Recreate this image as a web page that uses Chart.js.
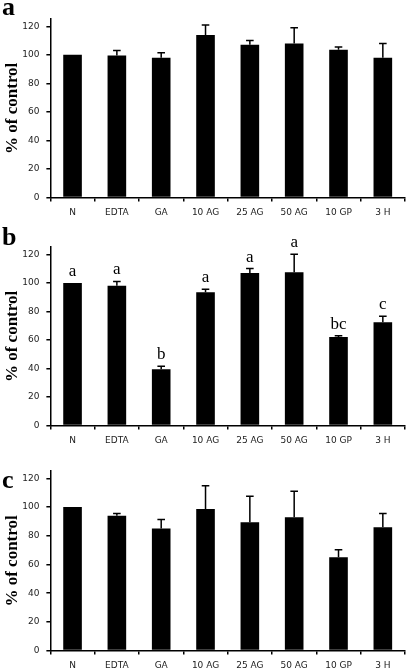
<!DOCTYPE html>
<html><head><meta charset="utf-8">
<script src="https://cdn.jsdelivr.net/npm/chart.js@4/dist/chart.umd.min.js"></script>
<style>
html,body{margin:0;padding:0;background:#fff;overflow:hidden}
#wrap{position:relative;width:406px;height:669px;overflow:hidden;background:#fff}
canvas{position:absolute;left:0}
</style></head>
<body><div id="wrap">
<canvas id="ca" width="406" height="235" style="top:0px"></canvas>
<canvas id="cb" width="406" height="235" style="top:225px"></canvas>
<canvas id="cc" width="406" height="235" style="top:450px"></canvas>
</div>
<script>
const categories = ['N', 'EDTA', 'GA', '10 AG', '25 AG', '50 AG', '10 GP', '3 H'];
const yTicks = [0, 20, 40, 60, 80, 100, 120];

const valuesA = [100, 99.5, 98, 114, 107, 108, 103.5, 98];
const errorsA = [0, 3.5, 3.5, 7, 3, 11, 2, 10];

const valuesB = [100, 98, 39.5, 93.5, 107, 107.5, 62, 72.5];
const errorsB = [0, 3, 2, 2, 3, 12.5, 1, 4.2];
const lettersB = ['a', 'a', 'b', 'a', 'a', 'a', 'bc', 'c'];

const valuesC = [100, 94, 85, 98.7, 89.5, 93, 65, 86];
const errorsC = [0, 1.5, 6.3, 16.2, 18, 18, 5.2, 9.5];

const extras = {
  id: 'extras',
  afterDatasetsDraw(chart, args, opts) {
    const ctx = chart.ctx;
    const meta = chart.getDatasetMeta(0);
    const ys = chart.scales.y;
    ctx.save();
    meta.data.forEach((bar, i) => {
      const top = ys.getPixelForValue(opts.values[i] + opts.errors[i]);
      if (opts.errors[i] > 0) {
        ctx.strokeStyle = '#000';
        ctx.lineWidth = 1.5;
        ctx.beginPath();
        ctx.moveTo(bar.x, bar.y);
        ctx.lineTo(bar.x, top);
        ctx.moveTo(bar.x - 3.8, top);
        ctx.lineTo(bar.x + 3.8, top);
        ctx.stroke();
      }
      if (opts.letters) {
        ctx.fillStyle = '#000';
        ctx.font = '17px "Liberation Serif"';
        ctx.textAlign = 'center';
        ctx.textBaseline = 'alphabetic';
        ctx.fillText(opts.letters[i], bar.x, top - 7);
      }
    });
    ctx.fillStyle = '#000';
    ctx.font = 'bold 26px "Liberation Serif"';
    ctx.textAlign = 'left';
    ctx.textBaseline = 'alphabetic';
    ctx.fillText(opts.panel, opts.px, opts.py);
    ctx.restore();
  }
};

function makeChart(id, values, errors, letters, panel, py, padTop, padBottom) {
  return new Chart(document.getElementById(id), {
    type: 'bar',
    data: {
      labels: categories,
      datasets: [{ data: values, backgroundColor: '#000', borderWidth: 0,
        categoryPercentage: 1, barPercentage: 0.42 }]
    },
    options: {
      responsive: false,
      animation: false,
      events: [],
      layout: { padding: { left: 2.8, right: 1, top: padTop, bottom: padBottom } },
      plugins: {
        legend: { display: false },
        tooltip: { enabled: false },
        extras: { values, errors, letters, panel, px: 2, py }
      },
      scales: {
        x: {
          border: { display: true, color: '#000', width: 1.5 },
          grid: { display: true, offset: true, drawOnChartArea: false, drawTicks: true,
            tickLength: 4, color: '#000', lineWidth: 1.5 },
          ticks: { font: { family: 'DejaVu Sans', size: 9 }, color: '#222', padding: 6,
            autoSkip: false, maxRotation: 0 }
        },
        y: {
          min: 0, max: 125,
          afterBuildTicks: (axis) => { axis.ticks = yTicks.map(v => ({ value: v })); },
          border: { display: true, color: '#000', width: 1.5 },
          grid: { display: true, drawOnChartArea: false, drawTicks: true,
            tickLength: 4, color: '#000', lineWidth: 1.5 },
          ticks: { font: { family: 'DejaVu Sans', size: 9 }, color: '#222', padding: 7 },
          title: { display: true, text: '% of control', color: '#000',
            font: { family: 'Liberation Serif', size: 17, weight: 'bold' },
            padding: { top: 0, bottom: -8 } }
        }
      }
    },
    plugins: [extras]
  });
}

makeChart('ca', valuesA, errorsA, null, 'a', 15, 19.2, 10.8);
makeChart('cb', valuesB, errorsB, lettersB, 'b', 20, 22.2, 7.6);
makeChart('cc', valuesC, errorsC, null, 'c', 37.7, 21.2, 7.6);
</script>
</body></html>
